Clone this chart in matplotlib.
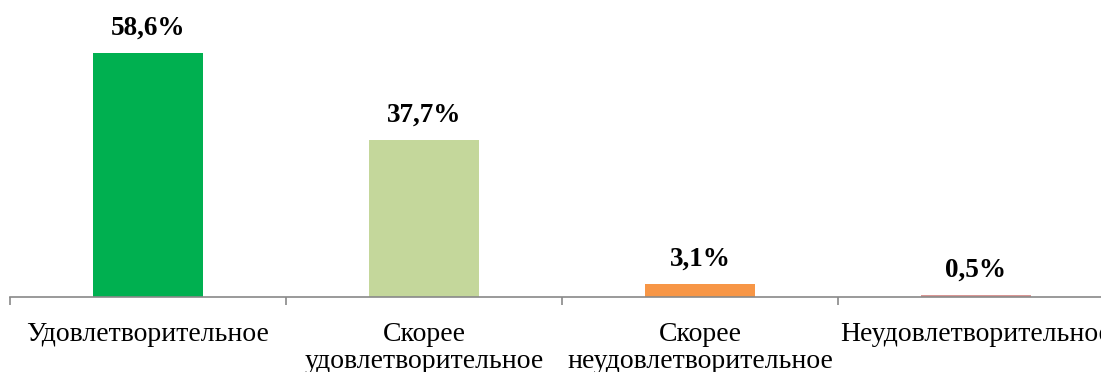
import matplotlib
matplotlib.use("Agg")
import matplotlib.pyplot as plt

categories = [
    "Удовлетворительное",
    "Скорее\nудовлетворительное",
    "Скорее\nнеудовлетворительное",
    "Неудовлетворительное",
]
values = [58.6, 37.7, 3.1, 0.5]
value_labels = ["58,6%", "37,7%", "3,1%", "0,5%"]
colors = ["#00B050", "#C4D79B", "#F79646", "#D99694"]

plt.rcParams["font.family"] = ["Liberation Serif", "DejaVu Serif"]

fig = plt.figure(figsize=(11.01, 3.72), dpi=100)
ax = fig.add_axes([10 / 1101, 75 / 372, 1104 / 1101, 297 / 372])

x = range(len(categories))
ax.bar(x, values, width=0.4, color=colors)

for xi, v, lab in zip(x, values, value_labels):
    ax.annotate(lab, (xi, v), xytext=(0, 9), textcoords="offset points",
                ha="center", va="bottom", fontsize=19.5, fontweight="bold")

ax.set_xlim(-0.5, 3.5)
ax.set_ylim(0, 71.3)
ax.set_yticks([])
for side in ("top", "right", "left"):
    ax.spines[side].set_visible(False)
ax.spines["bottom"].set_color("#898989")
ax.spines["bottom"].set_linewidth(1.2)

ax.set_xticks([-0.5, 0.5, 1.5, 2.5, 3.5])
ax.set_xticklabels([])
ax.tick_params(axis="x", which="major", length=6, width=1.2, color="#898989")
ax.set_xticks(list(x), minor=True)
ax.set_xticklabels(categories, minor=True, fontsize=20, linespacing=1.08)
ax.tick_params(axis="x", which="minor", length=0, pad=18)

fig.savefig("out.png", dpi=100)
